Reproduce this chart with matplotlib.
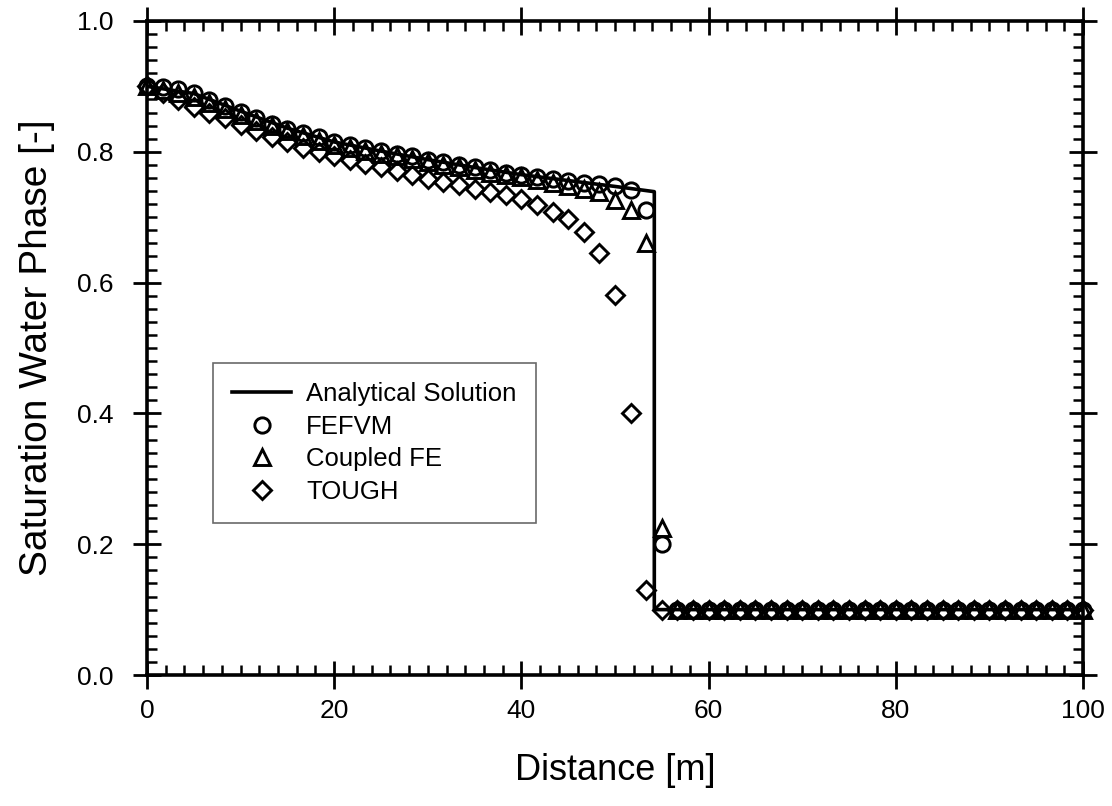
import numpy as np
import matplotlib
matplotlib.use("Agg")
import matplotlib.pyplot as plt
from matplotlib.ticker import MultipleLocator, FormatStrFormatter

plt.rcParams['font.family'] = ['Liberation Sans', 'DejaVu Sans']

# grid of the numerical solutions (60 cells over 100 m)
x_num = np.linspace(0, 100, 61)

# values behind the front, then the initial saturation ahead of it
fefvm = [0.900, 0.899, 0.896, 0.890, 0.879, 0.870, 0.861, 0.851, 0.843, 0.835,
         0.828, 0.822, 0.815, 0.810, 0.806, 0.801, 0.797, 0.793, 0.788, 0.784,
         0.780, 0.776, 0.772, 0.768, 0.765, 0.761, 0.758, 0.756, 0.753, 0.750,
         0.747, 0.741, 0.711, 0.200] + [0.100] * 27
coupled_fe = [0.900, 0.895, 0.890, 0.883, 0.874, 0.865, 0.856, 0.847, 0.839, 0.831,
              0.824, 0.817, 0.811, 0.806, 0.801, 0.797, 0.793, 0.789, 0.784, 0.780,
              0.776, 0.772, 0.768, 0.765, 0.761, 0.757, 0.753, 0.748, 0.743, 0.738,
              0.727, 0.711, 0.661, 0.225] + [0.100] * 27
tough = [0.900, 0.890, 0.879, 0.869, 0.859, 0.851, 0.841, 0.831, 0.823, 0.815,
         0.806, 0.799, 0.793, 0.787, 0.782, 0.776, 0.771, 0.765, 0.758, 0.754,
         0.749, 0.743, 0.739, 0.734, 0.728, 0.719, 0.708, 0.697, 0.678, 0.645,
         0.581, 0.400, 0.130, 0.100] + [0.100] * 27

# analytical Buckley-Leverett type profile
x_ana = [0, 5, 10, 15, 20, 25, 30, 35, 40, 45, 50, 54.2, 54.2, 100]
s_ana = [0.900, 0.889, 0.862, 0.836, 0.815, 0.801, 0.788, 0.776, 0.765, 0.756,
         0.747, 0.739, 0.100, 0.100]

fig = plt.figure(figsize=(11.12, 8.06), dpi=100)
ax = fig.add_axes([0.1322, 0.1625, 0.8417, 0.8115])

ax.plot(x_ana, s_ana, color='black', lw=2.6, label='Analytical Solution', zorder=3)
mk = dict(ls='none', mfc='none', mec='black', mew=2.1, clip_on=False, zorder=4)
ax.plot(x_num, fefvm, marker='o', ms=11, label='FEFVM', **mk)
ax.plot(x_num, coupled_fe, marker='^', ms=11, label='Coupled FE', **mk)
ax.plot(x_num, tough, marker='D', ms=9.5, label='TOUGH', **mk)

ax.set_xlim(0, 100)
ax.set_ylim(0, 1.0)
ax.xaxis.set_major_locator(MultipleLocator(20))
ax.xaxis.set_minor_locator(MultipleLocator(2))
ax.yaxis.set_major_locator(MultipleLocator(0.2))
ax.yaxis.set_minor_locator(MultipleLocator(0.02))
ax.yaxis.set_major_formatter(FormatStrFormatter('%.1f'))

for s in ax.spines.values():
    s.set_linewidth(2.6)
ax.tick_params(which='major', direction='inout', length=20, width=2.0,
               top=True, right=True, labelsize=19)
ax.tick_params(which='minor', direction='in', length=7, width=1.8,
               top=True, right=True)
ax.tick_params(axis='x', which='major', pad=7)
ax.tick_params(axis='y', which='major', pad=14)

ax.set_xlabel('Distance [m]', fontsize=26, labelpad=22)
ax.set_ylabel('Saturation Water Phase [-]', fontsize=28, labelpad=16)

leg = ax.legend(loc='upper left', bbox_to_anchor=(0.0705, 0.477), borderaxespad=0,
                fontsize=18.5, frameon=True, fancybox=False, edgecolor='#444444',
                handlelength=2.3, handletextpad=0.58, labelspacing=0.33,
                borderpad=0.75)
leg.get_frame().set_linewidth(1.2)

fig.savefig('out.png', dpi=100)
